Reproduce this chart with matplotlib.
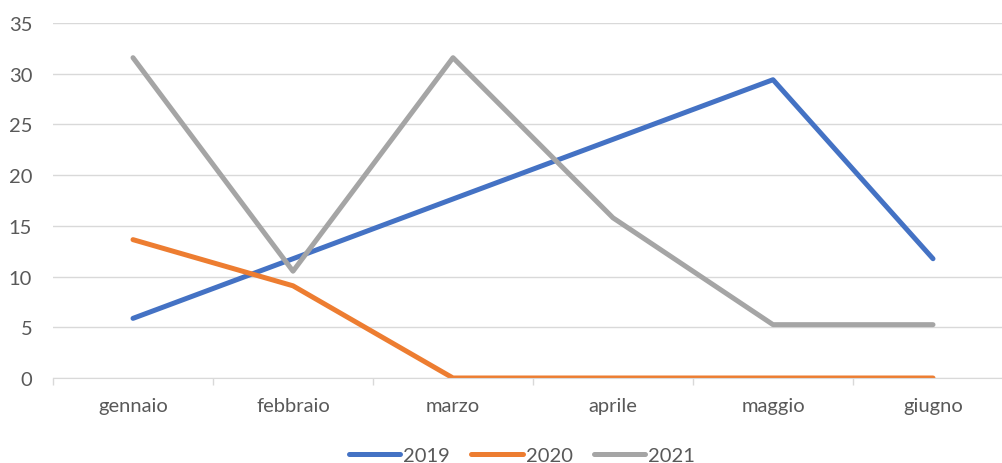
import matplotlib
matplotlib.use("Agg")
import matplotlib.pyplot as plt
import numpy as np

# Data
months = ["gennaio", "febbraio", "marzo", "aprile", "maggio", "giugno"]
v2019 = [5.88, 11.76, 17.65, 23.53, 29.41, 11.76]
v2020 = [13.64, 9.09, 0, 0, 0, 0]
v2021 = [31.58, 10.53, 31.58, 15.79, 5.26, 5.26]

plt.rcParams['font.family'] = ['Lato', 'DejaVu Sans']
FS = 14.5

fig = plt.figure(figsize=(10.03, 4.64), dpi=100)
ax = fig.add_axes([53 / 1003, 85 / 464, 960 / 1003, 355 / 464])

x = np.arange(len(months))
ax.plot(x, v2019, color="#4472C4", lw=3.6, label="2019", solid_capstyle="round", solid_joinstyle="round")
ax.plot(x, v2020, color="#ED7D31", lw=3.6, label="2020", solid_capstyle="round", solid_joinstyle="round")
ax.plot(x, v2021, color="#A5A5A5", lw=3.6, label="2021", solid_capstyle="round", solid_joinstyle="round")

ax.set_xlim(-0.5, len(months) - 0.5)
ax.set_ylim(0, 35)
ax.set_yticks(range(0, 36, 5))
ax.set_xticks(x)
ax.set_xticklabels(months)
ax.set_xticks(np.arange(-0.5, len(months)), minor=True)

ax.grid(axis="y", color="#D9D9D9", lw=1)
ax.set_axisbelow(True)
for s in ["top", "right", "left"]:
    ax.spines[s].set_visible(False)
ax.spines["bottom"].set_color("#D9D9D9")
ax.tick_params(axis="y", length=0, pad=15, labelsize=FS, labelcolor="#595959")
ax.tick_params(axis="x", which="major", length=0, pad=14, labelsize=FS, labelcolor="#595959")
ax.tick_params(axis="x", which="minor", length=5, color="#D9D9D9", width=1)

fig.legend(loc="center", bbox_to_anchor=(522 / 1003, 1 - 456 / 464), ncol=3, frameon=False,
           fontsize=FS, labelcolor="#595959", handlelength=2.55, handletextpad=0.15, columnspacing=1.05)

fig.savefig("out.png", dpi=100)
